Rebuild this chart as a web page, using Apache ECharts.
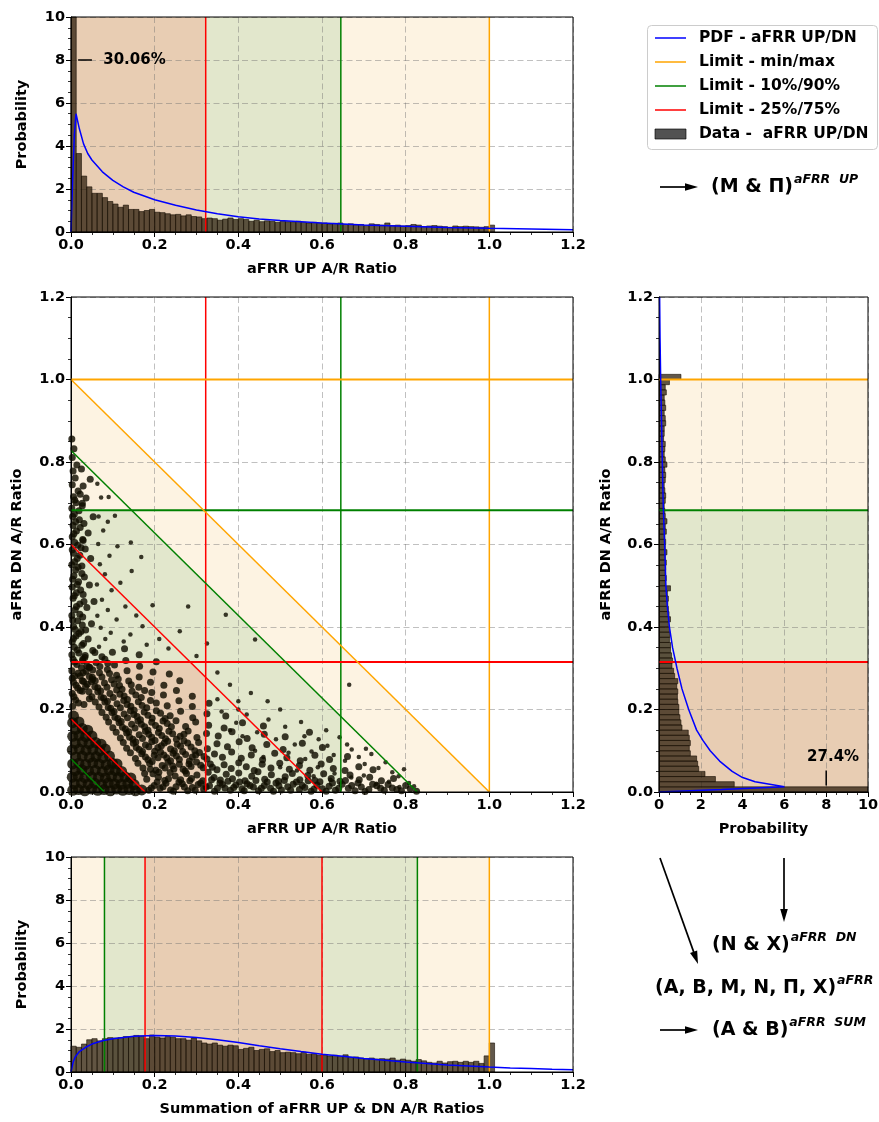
<!DOCTYPE html>
<html><head><meta charset="utf-8">
<script src="https://cdn.jsdelivr.net/npm/echarts@6.0.0/dist/echarts.min.js"></script>
<style>html,body{margin:0;padding:0;background:#fff}#c{width:879px;height:1122px}</style>
</head><body><div id="c"></div>
<script>
// ---------------- DATA ----------------
const binWidth = 0.0125;
// aFRR UP A/R ratio histogram (density), bins of 0.0125 from 0
const upHist = [24.0,3.65,2.6,2.1,1.8,1.8,1.6,1.42,1.3,1.15,
  1.25,1.05,1.05,0.95,1.0,1.05,0.92,0.9,0.85,0.8,
  0.82,0.75,0.8,0.72,0.7,0.62,0.65,0.62,0.55,0.6,
  0.65,0.58,0.62,0.58,0.5,0.55,0.48,0.52,0.5,0.45,
  0.5,0.48,0.45,0.5,0.45,0.42,0.45,0.4,0.42,0.38,
  0.4,0.42,0.35,0.38,0.32,0.35,0.3,0.38,0.35,0.32,
  0.42,0.3,0.32,0.28,0.3,0.35,0.32,0.25,0.28,0.3,
  0.27,0.25,0.22,0.28,0.25,0.27,0.25,0.24,0.22,0.25,
  0.32];
// aFRR DN A/R ratio histogram (density)
const dnHist = [21.9,3.6,2.7,2.2,1.9,1.85,1.8,1.5,1.45,1.5,
  1.45,1.4,1.1,1.05,1.0,0.95,0.95,0.9,0.88,0.9,
  0.85,0.9,0.75,0.7,0.62,0.65,0.6,0.55,0.55,0.5,
  0.52,0.5,0.45,0.55,0.48,0.45,0.42,0.45,0.4,0.55,
  0.3,0.35,0.3,0.32,0.35,0.3,0.38,0.3,0.32,0.28,
  0.35,0.3,0.38,0.3,0.28,0.25,0.3,0.32,0.28,0.25,
  0.3,0.32,0.28,0.38,0.3,0.25,0.28,0.3,0.22,0.25,
  0.25,0.32,0.3,0.25,0.32,0.28,0.25,0.35,0.3,0.5,
  1.05];
// Sum of UP & DN ratios histogram (density)
const sumHist = [1.2,1.15,1.3,1.5,1.55,1.45,1.55,1.6,1.58,1.6,
  1.65,1.62,1.7,1.68,1.55,1.72,1.62,1.58,1.65,1.62,
  1.55,1.55,1.48,1.58,1.45,1.35,1.3,1.35,1.25,1.2,
  1.25,1.22,1.05,1.1,1.15,1.0,1.05,1.08,0.95,1.0,
  0.9,0.92,0.9,0.85,0.92,0.82,0.85,0.78,0.8,0.75,
  0.78,0.72,0.8,0.68,0.7,0.65,0.62,0.65,0.6,0.62,
  0.6,0.65,0.55,0.6,0.55,0.5,0.58,0.52,0.45,0.42,
  0.5,0.42,0.48,0.5,0.45,0.5,0.45,0.5,0.4,0.75,
  1.35];
// fitted PDFs
const upPdf = [[0,0],[0.004,2.5],[0.008,4.5],[0.012,5.5],[0.02,4.8],[0.03,4.1],[0.04,3.65],[0.05,3.35],[0.075,2.8],[0.1,2.4],[0.125,2.1],[0.15,1.85],[0.2,1.5],[0.25,1.24],[0.3,1.02],[0.35,0.85],[0.4,0.71],[0.45,0.61],[0.5,0.53],[0.6,0.42],[0.7,0.33],[0.8,0.27],[0.9,0.21],[1.0,0.17],[1.1,0.14],[1.2,0.11]];
const dnPdf = [[0,0],[3,0.006],[6,0.013],[4.6,0.025],[4.0,0.035],[3.5,0.05],[2.9,0.075],[2.45,0.1],[2.1,0.125],[1.8,0.15],[1.42,0.2],[1.1,0.25],[0.86,0.3],[0.65,0.35],[0.5,0.4],[0.4,0.45],[0.33,0.5],[0.27,0.6],[0.2,0.7],[0.16,0.8],[0.12,0.9],[0.08,1.0],[0.05,1.1],[0.03,1.2]];
const sumPdf = [[0,0],[0.005,0.45],[0.01,0.7],[0.02,0.95],[0.035,1.15],[0.05,1.3],[0.075,1.45],[0.1,1.55],[0.15,1.66],[0.2,1.7],[0.25,1.68],[0.3,1.6],[0.35,1.5],[0.4,1.37],[0.45,1.22],[0.5,1.08],[0.55,0.95],[0.6,0.83],[0.65,0.73],[0.7,0.63],[0.75,0.55],[0.8,0.47],[0.85,0.4],[0.9,0.33],[0.95,0.28],[1.0,0.23],[1.05,0.19],[1.1,0.16],[1.15,0.13],[1.2,0.11]];
// limits: [25/75 %, 10/90 %, min/max]
const upLimits = [0.322, 0.645, 1.0];
const dnLimits = [0.315, 0.683, 1.0];
// sum limits: [10%, 25%, 75%, 90%, max]
const sumLimits = [0.08, 0.177, 0.6, 0.828, 1.0];
const upPeakLabel = '30.06%';
const dnPeakLabel = '27.4%';
const ratioTicks = [0, 0.2, 0.4, 0.6, 0.8, 1.0, 1.2];
const probTicks = [0, 2, 4, 6, 8, 10];
const legendLabels = ['PDF - aFRR UP/DN','Limit - min/max','Limit - 10%/90%','Limit - 25%/75%','Data -  aFRR UP/DN'];
// scatter (UP ratio, DN ratio)
const scatterCore = [[0.004,0.004],[0.018,0.006],[0.033,0.003],[0.049,0.007],[0.064,0.004],[0.079,0.006],[0.094,0.003],[0.109,0.007],[0.124,0.004],[0.139,0.006],[0.154,0.003],[0.169,0.005],
[0.008,0.02],[0.025,0.022],[0.041,0.019],[0.057,0.021],[0.073,0.018],[0.089,0.022],[0.104,0.02],[0.12,0.019],[0.136,0.021],[0.151,0.018],
[0.003,0.036],[0.017,0.038],[0.033,0.035],[0.049,0.037],[0.066,0.036],[0.082,0.034],[0.097,0.038],[0.113,0.035],[0.129,0.037],[0.143,0.034],
[0.01,0.052],[0.026,0.054],[0.042,0.051],[0.058,0.053],[0.075,0.05],[0.091,0.054],[0.106,0.052],[0.121,0.05],
[0.004,0.068],[0.019,0.07],[0.035,0.067],[0.052,0.071],[0.067,0.068],[0.084,0.066],[0.099,0.07],[0.11,0.068],
[0.011,0.085],[0.027,0.087],[0.044,0.084],[0.06,0.086],[0.076,0.083],[0.092,0.087],
[0.003,0.102],[0.02,0.104],[0.036,0.101],[0.052,0.103],[0.069,0.1],[0.082,0.104],
[0.01,0.118],[0.027,0.121],[0.043,0.117],[0.059,0.12],[0.072,0.116],
[0.004,0.135],[0.019,0.137],[0.035,0.134],[0.05,0.136],
[0.011,0.152],[0.027,0.154],[0.04,0.15],[0.004,0.168],[0.019,0.17],[0.006,0.184]];
const scatterDense = [[0.186,0.004],[0.199,0.016],[0.213,0.009],[0.227,0.021],[0.238,0.005],[0.251,0.013],[0.266,0.02],[0.279,0.003],[0.29,0.011],[0.304,0.018],[0.317,0.007],[0.331,0.015],[0.343,0.002],[0.356,0.022],[0.368,0.01],[0.381,0.004],[0.394,0.017],[0.409,0.008],[0.421,0.02],[0.436,0.012],[0.448,0.003],[0.462,0.016],[0.477,0.009],[0.49,0.022],[0.503,0.005],[0.518,0.013],[0.531,0.019],[0.546,0.006],[0.559,0.011],[0.574,0.002],[0.588,0.017],[0.601,0.008],[0.617,0.014],[0.632,0.004],[0.648,0.019],[0.663,0.009],[0.679,0.003],[0.694,0.012],[0.712,0.006],[0.731,0.015],[0.749,0.004],[0.768,0.01],[0.79,0.003],[0.811,0.008],[0.826,0.002],
[0.181,0.031],[0.196,0.044],[0.209,0.036],[0.224,0.028],[0.237,0.047],[0.249,0.039],[0.262,0.03],[0.276,0.045],[0.288,0.033],[0.301,0.041],[0.315,0.027],[0.328,0.048],[0.342,0.035],[0.357,0.029],[0.371,0.043],[0.386,0.032],[0.401,0.046],[0.416,0.027],[0.432,0.038],[0.447,0.049],[0.463,0.031],[0.479,0.042],[0.496,0.026],[0.512,0.037],[0.529,0.045],[0.547,0.03],[0.566,0.04],[0.583,0.028],[0.604,0.044],[0.622,0.033],[0.643,0.026],[0.667,0.041],[0.689,0.03],[0.714,0.036],[0.742,0.027],[0.771,0.033],
[0.172,0.058],[0.188,0.069],[0.203,0.053],[0.218,0.064],[0.232,0.072],[0.246,0.056],[0.259,0.067],[0.273,0.051],[0.287,0.062],[0.3,0.073],[0.316,0.059],[0.333,0.068],[0.349,0.054],[0.366,0.066],[0.383,0.057],[0.401,0.071],[0.419,0.061],[0.438,0.052],[0.457,0.067],[0.478,0.058],[0.499,0.07],[0.522,0.055],[0.546,0.064],[0.571,0.053],[0.598,0.068],[0.627,0.057],[0.655,0.052],[0.688,0.061],[0.722,0.054],
[0.154,0.081],[0.169,0.093],[0.184,0.078],[0.199,0.089],[0.214,0.097],[0.229,0.083],[0.244,0.094],[0.259,0.079],[0.274,0.091],[0.29,0.085],[0.307,0.096],[0.325,0.08],[0.343,0.092],[0.362,0.084],[0.384,0.097],[0.407,0.082],[0.431,0.09],[0.458,0.078],[0.487,0.094],[0.516,0.083],[0.548,0.076],[0.583,0.089],[0.618,0.079],[0.661,0.086],
[0.133,0.106],[0.149,0.118],[0.163,0.103],[0.178,0.114],[0.193,0.122],[0.208,0.108],[0.223,0.119],[0.238,0.104],[0.254,0.116],[0.27,0.124],[0.287,0.109],[0.305,0.12],[0.326,0.105],[0.349,0.117],[0.374,0.11],[0.402,0.122],[0.433,0.107],[0.468,0.115],[0.507,0.103],[0.553,0.118],[0.601,0.108],
[0.118,0.131],[0.133,0.143],[0.148,0.128],[0.163,0.139],[0.178,0.147],[0.193,0.133],[0.209,0.144],[0.226,0.129],[0.243,0.141],[0.261,0.135],[0.28,0.148],[0.301,0.132],[0.324,0.142],[0.352,0.136],[0.385,0.146],[0.421,0.13],[0.462,0.14],[0.512,0.134],[0.57,0.145],
[0.1,0.156],[0.115,0.168],[0.13,0.153],[0.145,0.164],[0.16,0.172],[0.176,0.158],[0.193,0.169],[0.211,0.154],[0.23,0.166],[0.251,0.173],[0.274,0.159],[0.298,0.17],[0.329,0.162],[0.366,0.155],[0.41,0.168],[0.46,0.16],
[0.084,0.181],[0.098,0.193],[0.112,0.178],[0.127,0.189],[0.142,0.197],[0.158,0.183],[0.175,0.194],[0.194,0.179],[0.214,0.191],[0.237,0.185],[0.262,0.196],[0.291,0.18],[0.325,0.19],[0.37,0.184],
[0.067,0.206],[0.081,0.218],[0.095,0.203],[0.11,0.214],[0.126,0.222],[0.143,0.208],[0.161,0.219],[0.181,0.204],[0.204,0.216],[0.23,0.209],[0.258,0.221],[0.29,0.207],[0.33,0.215],
[0.05,0.231],[0.064,0.243],[0.078,0.228],[0.093,0.239],[0.109,0.247],[0.127,0.233],[0.146,0.244],[0.168,0.229],[0.193,0.241],[0.221,0.235],[0.252,0.246],[0.29,0.232],
[0.035,0.256],[0.049,0.268],[0.064,0.253],[0.08,0.264],[0.097,0.272],[0.116,0.258],[0.138,0.269],[0.162,0.254],[0.19,0.266],[0.222,0.259],[0.26,0.27],
[0.022,0.281],[0.036,0.293],[0.051,0.278],[0.068,0.289],[0.087,0.297],[0.109,0.283],[0.134,0.294],[0.163,0.279],[0.196,0.291],[0.235,0.286],
[0.028,0.318],[0.043,0.303],[0.06,0.314],[0.081,0.322],[0.104,0.308],[0.131,0.319],[0.164,0.305],[0.204,0.316],
[0.034,0.331],[0.052,0.343],[0.074,0.328],[0.099,0.339],[0.128,0.347],[0.163,0.333],
[0.004,0.208],[0.011,0.223],[0.003,0.239],[0.016,0.252],[0.006,0.266],[0.009,0.281],[0.002,0.294],[0.014,0.309],[0.005,0.322],[0.019,0.337],[0.008,0.351],[0.003,0.364],[0.012,0.378],[0.024,0.389],[0.006,0.401],[0.016,0.415],[0.002,0.428],[0.01,0.442],[0.021,0.456],[0.005,0.47],[0.013,0.483],[0.003,0.497],[0.018,0.51],[0.007,0.524],[0.011,0.538],[0.002,0.551],[0.015,0.566],[0.006,0.579],[0.024,0.592],[0.009,0.605],[0.003,0.619],[0.013,0.633],[0.005,0.646],[0.02,0.66],[0.008,0.674],[0.002,0.688],[0.012,0.701],[0.006,0.716],[0.017,0.73],[0.003,0.745],[0.01,0.761],[0.005,0.778],[0.014,0.793],[0.003,0.811],[0.007,0.832],[0.002,0.856],
[0.031,0.212],[0.044,0.226],[0.027,0.244],[0.039,0.261],[0.052,0.273],[0.029,0.289],[0.045,0.302],[0.033,0.326],[0.057,0.338],[0.026,0.356],[0.041,0.371],[0.035,0.393],[0.049,0.408],[0.028,0.424],[0.038,0.447],[0.055,0.462],[0.029,0.479],[0.044,0.502],[0.032,0.521],[0.026,0.548],[0.047,0.566],[0.034,0.589],[0.028,0.612],[0.041,0.628],[0.031,0.651],[0.053,0.667],[0.027,0.694],[0.036,0.713],[0.029,0.742],[0.046,0.758],[0.025,0.783]];
const scatterDense2 = [[0.192,0.01],[0.206,0.024],[0.22,0.013],[0.233,0.032],[0.245,0.002],[0.258,0.024],[0.271,0.012],[0.284,0.027],[0.297,0.004],[0.31,0.022],[0.323,0.012],[0.336,0.03],[0.35,0.009],[0.362,0.018],[0.375,0.026],[0.389,0.011],[0.403,0.024],[0.414,0.003],[0.428,0.016],[0.442,0.028],[0.455,0.009],[0.469,0.024],[0.484,0.002],[0.497,0.015],[0.51,0.028],[0.525,0.004],[0.539,0.024],[0.553,0.016],[0.567,0.027],[0.581,0.007],[0.595,0.025],[0.61,0.002],[0.625,0.022],[0.64,0.009],[0.656,0.028],[0.671,0.016],[0.686,0.022],[0.703,0.001],[0.721,0.019],[0.74,0.009],[0.758,0.018],[0.779,0.006],[0.8,0.016],
[0.018,0.216],[0.007,0.231],[0.022,0.246],[0.012,0.259],[0.027,0.27],[0.003,0.276],[0.017,0.288],[0.025,0.301],[0.009,0.315],[0.028,0.322],[0.002,0.333],[0.015,0.344],[0.03,0.36],[0.006,0.372],[0.019,0.384],[0.01,0.394],[0.027,0.405],[0.004,0.417],[0.021,0.431],[0.013,0.45],[0.031,0.462],[0.008,0.476],[0.023,0.49],[0.015,0.503],[0.004,0.516],[0.026,0.53],[0.017,0.545],[0.009,0.558],[0.021,0.574],[0.003,0.587],[0.016,0.598],[0.029,0.61],[0.007,0.626],[0.022,0.641],[0.011,0.655],[0.004,0.668],[0.019,0.682],[0.027,0.7],[0.009,0.708],[0.022,0.722],
[0.176,0.045],[0.19,0.055],[0.21,0.048],[0.225,0.058],[0.243,0.063],[0.268,0.055],[0.282,0.068],[0.31,0.065],[0.338,0.06],
[0.16,0.07],[0.178,0.085],[0.194,0.074],[0.208,0.083],[0.222,0.09],[0.238,0.076],[0.252,0.087],[0.267,0.098],[0.283,0.075],[0.298,0.09],[0.318,0.086],
[0.142,0.095],[0.156,0.108],[0.171,0.098],[0.186,0.11],[0.2,0.099],[0.216,0.112],[0.231,0.123],[0.247,0.1],[0.262,0.111],[0.279,0.119],[0.296,0.1],
[0.125,0.12],[0.14,0.133],[0.155,0.121],[0.171,0.13],[0.186,0.14],[0.201,0.125],[0.217,0.137],[0.234,0.147],[0.252,0.128],[0.27,0.14],
[0.108,0.145],[0.123,0.157],[0.138,0.146],[0.153,0.155],[0.168,0.164],[0.184,0.15],[0.202,0.161],[0.22,0.172],[0.24,0.158],
[0.09,0.17],[0.105,0.181],[0.12,0.171],[0.135,0.18],[0.15,0.188],[0.166,0.175],[0.184,0.186],[0.204,0.197],[0.225,0.178],
[0.074,0.193],[0.089,0.205],[0.103,0.195],[0.118,0.204],[0.134,0.212],[0.151,0.198],[0.17,0.21],[0.19,0.222],
[0.058,0.218],[0.072,0.23],[0.087,0.22],[0.101,0.229],[0.117,0.237],[0.135,0.224],[0.155,0.235],[0.176,0.246],
[0.043,0.243],[0.057,0.255],[0.071,0.245],[0.086,0.254],[0.103,0.262],[0.122,0.249],[0.144,0.26],
[0.03,0.268],[0.044,0.28],[0.058,0.27],[0.074,0.279],[0.092,0.287],[0.113,0.274],
[0.038,0.306],[0.052,0.296],[0.069,0.304],[0.088,0.312]];
const scatterSparse = [[0.067,0.352],[0.082,0.371],[0.071,0.398],[0.095,0.386],[0.063,0.427],[0.088,0.441],[0.109,0.418],[0.074,0.466],[0.062,0.503],[0.097,0.489],[0.081,0.528],[0.118,0.507],[0.069,0.552],[0.092,0.573],[0.065,0.601],[0.111,0.596],[0.077,0.634],[0.066,0.668],[0.088,0.655],[0.072,0.714],[0.063,0.747],[0.13,0.45],[0.142,0.382],[0.156,0.428],[0.171,0.402],[0.126,0.365],[0.145,0.536],[0.168,0.57],[0.09,0.715],[0.105,0.67],[0.143,0.605],[0.195,0.453],[0.211,0.371],[0.233,0.348],[0.181,0.357],
[0.36,0.195],[0.395,0.168],[0.42,0.188],[0.445,0.145],[0.472,0.176],[0.49,0.128],[0.512,0.158],[0.535,0.115],[0.558,0.135],[0.575,0.098],[0.592,0.128],[0.613,0.112],[0.628,0.09],[0.642,0.133],[0.655,0.076],[0.671,0.103],[0.688,0.085],[0.702,0.068],[0.718,0.092],[0.735,0.058],[0.752,0.072],[0.768,0.048],[0.783,0.038],[0.796,0.055],[0.808,0.022],[0.82,0.014],[0.705,0.105],[0.66,0.115],[0.61,0.15],[0.55,0.17],[0.5,0.2],[0.47,0.22],[0.43,0.24],[0.38,0.26],[0.35,0.29],[0.325,0.36],[0.28,0.45],[0.26,0.39],[0.3,0.33],[0.4,0.22],[0.52,0.095],[0.56,0.08],[0.59,0.06],[0.63,0.045],[0.67,0.035],[0.7,0.04],[0.73,0.02],[0.76,0.025],[0.785,0.012],[0.62,0.03],[0.58,0.038],[0.54,0.052],[0.5,0.06],[0.46,0.085],[0.44,0.1],[0.41,0.135],[0.38,0.15],[0.35,0.225],[0.4,0.2],[0.37,0.43],[0.44,0.37],[0.665,0.26]];

// ---------------- STYLE ----------------
const FONT = '"DejaVu Sans", sans-serif';
const C_BLUE='#0000ff', C_ORANGE='#ffa500', C_GREEN='#008000', C_RED='#ff0000';
const F_BROWN='#e8cdb3', F_GREEN='#e2e7cc', F_CREAM='#fdf3e2';
const BAR_FILL='rgba(38,24,6,0.72)', BAR_EDGE='rgba(20,12,2,0.85)';
const PT_COLOR='rgba(16,14,0,0.82)';
const TICK_FS = 14.5, NAME_FS = 14.5;

const grids = [
  {left:71, top:17, width:502, height:215},
  {left:71, top:297, width:502, height:495},
  {left:659, top:297, width:209, height:495},
  {left:71, top:857, width:502, height:215}
].map(g => Object.assign(g, {show:true, borderColor:'#000', borderWidth:1, backgroundColor:'rgba(0,0,0,0)', z:10, containLabel:false, outerBoundsMode:'none'}));

function axis(gi, ticks, dec, name, gap) {
  return {
    type:'value', gridIndex:gi, min:ticks[0], max:ticks[ticks.length-1], interval:ticks[1]-ticks[0],
    name, nameLocation:'middle', nameGap:gap,
    nameTextStyle:{fontFamily:FONT, fontWeight:'bold', fontSize:NAME_FS, color:'#000'},
    z:1,
    axisLine:{show:true, onZero:false, lineStyle:{color:'#000', width:1}},
    axisTick:{show:true, length:5, lineStyle:{color:'#000', width:1}},
    minorTick:{show:true, splitNumber:4, length:3, lineStyle:{color:'#000', width:0.8}},
    axisLabel:{show:true, margin:6, fontFamily:FONT, fontWeight:'bold', fontSize:TICK_FS, color:'#000',
      formatter:v => v.toFixed(dec), showMinLabel:true, showMaxLabel:true},
    splitLine:{show:true, lineStyle:{color:'rgba(110,110,110,0.55)', type:[6,3.5], width:0.8}},
    minorSplitLine:{show:false}
  };
}
const xAxes = [axis(0, ratioTicks, 1, 'aFRR UP A/R Ratio', 30), axis(1, ratioTicks, 1, 'aFRR UP A/R Ratio', 30),
  axis(2, probTicks, 0, 'Probability', 30), axis(3, ratioTicks, 1, 'Summation of aFRR UP & DN A/R Ratios', 30)];
const yAxes = [axis(0, probTicks, 0, 'Probability', 41), axis(1, ratioTicks, 1, 'aFRR DN A/R Ratio', 46),
  axis(2, ratioTicks, 1, 'aFRR DN A/R Ratio', 45), axis(3, probTicks, 0, 'Probability', 41)];

// ---------------- SERIES BUILDERS ----------------
function fillSeries(gi, polys) {
  return {type:'custom', xAxisIndex:gi, yAxisIndex:gi, z:0, silent:true, animation:false,
    data: polys.map((p,i)=>[i]),
    renderItem:(params, api) => {
      const p = polys[params.dataIndex];
      return {type:'polygon', shape:{points:p.pts.map(pt => api.coord(pt))}, style:{fill:p.color}};
    }};
}
function vband(a,b,top,color){ return {pts:[[a,0],[b,0],[b,top],[a,top]], color}; }
function hband(a,b,right,color){ return {pts:[[0,a],[right,a],[right,b],[0,b]], color}; }

function vHist(gi, hist, yMax) {
  return {type:'custom', xAxisIndex:gi, yAxisIndex:gi, z:2, silent:true, animation:false,
    data: hist.map((v,i)=>[i*binWidth, (i+1)*binWidth, v]),
    encode:{x:[0,1], y:2},
    renderItem:(params, api) => {
      const v = Math.min(api.value(2), yMax);
      const p0 = api.coord([api.value(0), 0]), p1 = api.coord([api.value(1), v]);
      return {type:'rect', shape:{x:p0[0], y:p1[1], width:p1[0]-p0[0], height:p0[1]-p1[1]},
        style:{fill:BAR_FILL, stroke:BAR_EDGE, lineWidth:0.7}};
    }};
}
function hHist(gi, hist, xMax) {
  return {type:'custom', xAxisIndex:gi, yAxisIndex:gi, z:2, silent:true, animation:false,
    data: hist.map((v,i)=>[v, i*binWidth, (i+1)*binWidth]),
    encode:{x:0, y:[1,2]},
    renderItem:(params, api) => {
      const v = Math.min(api.value(0), xMax);
      const p0 = api.coord([0, api.value(1)]), p1 = api.coord([v, api.value(2)]);
      return {type:'rect', shape:{x:p0[0], y:p1[1], width:p1[0]-p0[0], height:p0[1]-p1[1]},
        style:{fill:BAR_FILL, stroke:BAR_EDGE, lineWidth:0.7}};
    }};
}
function line(gi, pts, color, width, z) {
  return {type:'line', xAxisIndex:gi, yAxisIndex:gi, data:pts, symbol:'none', showSymbol:false,
    lineStyle:{color, width}, z:z||3, silent:true, animation:false, clip:true};
}
function scatter(gi, pts, size) {
  return {type:'scatter', xAxisIndex:gi, yAxisIndex:gi, data:pts, symbolSize:size, z:2, silent:true, animation:false,
    itemStyle:{color:PT_COLOR, opacity:1}, large:false, progressive:0};
}

const series = [];
const PMAX = 10, RMAX = 1.2;
// shaded bands
series.push(fillSeries(0, [vband(0,upLimits[0],PMAX,F_BROWN), vband(upLimits[0],upLimits[1],PMAX,F_GREEN), vband(upLimits[1],upLimits[2],PMAX,F_CREAM)]));
series.push(fillSeries(2, [hband(0,dnLimits[0],PMAX,F_BROWN), hband(dnLimits[0],dnLimits[1],PMAX,F_GREEN), hband(dnLimits[1],dnLimits[2],PMAX,F_CREAM)]));
series.push(fillSeries(3, [vband(0,sumLimits[0],PMAX,F_CREAM), vband(sumLimits[0],sumLimits[1],PMAX,F_GREEN), vband(sumLimits[1],sumLimits[2],PMAX,F_BROWN),
  vband(sumLimits[2],sumLimits[3],PMAX,F_GREEN), vband(sumLimits[3],sumLimits[4],PMAX,F_CREAM)]));
function region(ux, dy, s, color) {
  return {pts:[[0,0],[ux,0],[ux,s-ux],[s-dy,dy],[0,dy]], color};
}
series.push(fillSeries(1, [
  {pts:[[0,0],[sumLimits[4],0],[0,sumLimits[4]]], color:F_CREAM},
  region(upLimits[1], dnLimits[1], sumLimits[3], F_GREEN),
  region(upLimits[0], dnLimits[0], sumLimits[2], F_BROWN)
]));
// histograms
series.push(vHist(0, upHist, PMAX));
series.push(hHist(2, dnHist, PMAX));
series.push(vHist(3, sumHist, PMAX));
// scatter
series.push(scatter(1, scatterCore, 11));
series.push(scatter(1, scatterDense, 7));
series.push(scatter(1, scatterDense2, 7));
series.push(scatter(1, scatterSparse, 4.5));
// limit lines
const limCol3 = [C_RED, C_GREEN, C_ORANGE];
upLimits.forEach((v,i) => {
  series.push(line(0, [[v,0],[v,PMAX]], limCol3[i], 1.5));
  series.push(line(1, [[v,0],[v,RMAX]], limCol3[i], 1.5));
});
dnLimits.forEach((v,i) => {
  series.push(line(1, [[0,v],[RMAX,v]], limCol3[i], 2));
  series.push(line(2, [[0,v],[PMAX,v]], limCol3[i], 2));
});
const limCol5 = [C_GREEN, C_RED, C_RED, C_GREEN, C_ORANGE];
sumLimits.forEach((v,i) => {
  series.push(line(3, [[v,0],[v,PMAX]], limCol5[i], 1.5));
  series.push(line(1, [[0,v],[v,0]], limCol5[i], 1.5));
});
// PDFs
series.push(line(0, upPdf, C_BLUE, 1.5, 4));
series.push(line(2, dnPdf, C_BLUE, 1.5, 4));
series.push(line(3, sumPdf, C_BLUE, 1.5, 4));
// peak annotations
series.push({type:'custom', xAxisIndex:0, yAxisIndex:0, z:5, silent:true, animation:false, data:[[0.077, 8]],
  renderItem:(params, api) => {
    const a = api.coord([0.017, 8]), b = api.coord([0.05, 8]), t = api.coord([api.value(0), api.value(1)]);
    return {type:'group', children:[
      {type:'line', shape:{x1:a[0], y1:a[1], x2:b[0], y2:b[1]}, style:{stroke:'#000', lineWidth:1.5}},
      {type:'text', style:{text:upPeakLabel, x:t[0], y:t[1], font:'bold 15px '+FONT, fill:'#000', textAlign:'left', textVerticalAlign:'middle'}}
    ]};
  }});
series.push({type:'custom', xAxisIndex:2, yAxisIndex:2, z:5, silent:true, animation:false, data:[[8.33, 0.085]],
  renderItem:(params, api) => {
    const a = api.coord([8, 0.016]), b = api.coord([8, 0.052]), t = api.coord([api.value(0), api.value(1)]);
    return {type:'group', children:[
      {type:'line', shape:{x1:a[0], y1:a[1], x2:b[0], y2:b[1]}, style:{stroke:'#000', lineWidth:1.5}},
      {type:'text', style:{text:dnPeakLabel, x:t[0], y:t[1], font:'bold 15px '+FONT, fill:'#000', textAlign:'center', textVerticalAlign:'middle'}}
    ]};
  }});

// ---------------- GRAPHIC (legend, arrows, labels) ----------------
const mctx = document.createElement('canvas').getContext('2d');
function tw(t, f){ mctx.font = f; return mctx.measureText(t).width; }
const MAIN_F = 'bold 19px "DejaVu Sans"';
const SUP_F = 'italic bold 12.5px "DejaVu Sans"';
function supText(x, y, main, sup) {
  const w = tw(main, MAIN_F);
  return [
    {type:'text', z:20, style:{text:main, x, y, font:MAIN_F, fill:'#000', textAlign:'left', textVerticalAlign:'middle'}},
    {type:'text', z:20, style:{text:sup, x:x+w+1, y:y-7, font:SUP_F, fill:'#000', textAlign:'left', textVerticalAlign:'middle'}}
  ];
}
function arrow(x1,y1,x2,y2){
  const dx=x2-x1, dy=y2-y1, L=Math.hypot(dx,dy), ux=dx/L, uy=dy/L, hl=13, hw=3.8;
  const bx=x2-ux*hl, by=y2-uy*hl;
  return [
    {type:'line', z:20, shape:{x1,y1,x2:bx+ux*2,y2:by+uy*2}, style:{stroke:'#000', lineWidth:1.7}},
    {type:'polygon', z:20, shape:{points:[[x2,y2],[bx-uy*hw,by+ux*hw],[bx+uy*hw,by-ux*hw]]}, style:{fill:'#000'}}
  ];
}
const graphic = [];
// legend
graphic.push({type:'rect', z:20, shape:{x:647.5, y:25.5, width:230, height:124, r:4}, style:{fill:'#fff', stroke:'#cccccc', lineWidth:1}});
const legCols = [C_BLUE, C_ORANGE, C_GREEN, C_RED];
legendLabels.forEach((lab, i) => {
  const y = 38 + i*24;
  if (i < 4) graphic.push({type:'line', z:21, shape:{x1:655, y1:y, x2:686, y2:y}, style:{stroke:legCols[i], lineWidth:1.5}});
  else graphic.push({type:'rect', z:21, shape:{x:655, y:y-5, width:31, height:10}, style:{fill:'rgba(0,0,0,0.68)', stroke:'rgba(0,0,0,0.8)', lineWidth:0.8}});
  graphic.push({type:'text', z:21, style:{text:lab, x:699, y:y, font:'bold 15.5px "DejaVu Sans"', fill:'#000', textAlign:'left', textVerticalAlign:'middle'}});
});
graphic.push(...arrow(660, 187, 698, 187));
graphic.push(...supText(711, 187, '(Μ & Π)', 'aFRR  UP'));
graphic.push(...arrow(660, 858, 698, 964));
graphic.push(...arrow(784, 858, 784, 922));
graphic.push(...supText(712, 945, '(Ν & Χ)', 'aFRR  DN'));
graphic.push(...supText(655, 988, '(Α, Β, Μ, Ν, Π, Χ)', 'aFRR'));
graphic.push(...arrow(660, 1030, 698, 1030));
graphic.push(...supText(712, 1030, '(Α & Β)', 'aFRR  SUM'));

const chart = echarts.init(document.getElementById('c'), null, {renderer:'canvas'});
chart.setOption({
  animation:false,
  backgroundColor:'#ffffff',
  textStyle:{fontFamily:FONT},
  grid:grids, xAxis:xAxes, yAxis:yAxes, series, graphic
});
</script></body></html>
